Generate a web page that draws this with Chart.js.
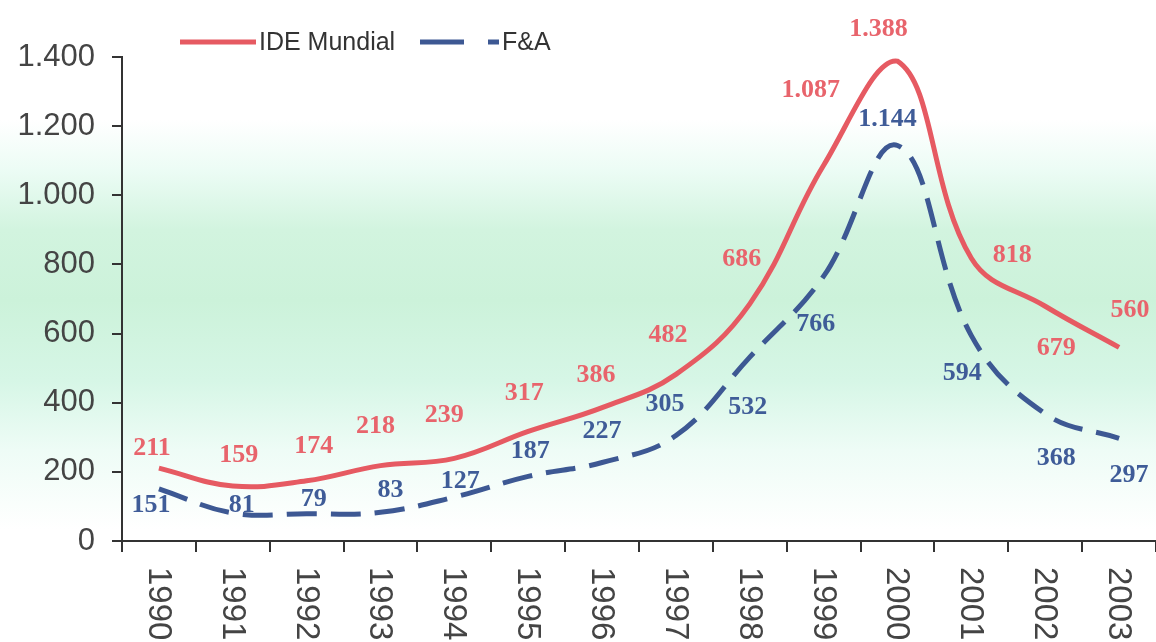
<!DOCTYPE html>
<html>
<head>
<meta charset="utf-8">
<script src="https://cdn.jsdelivr.net/npm/chart.js@4.4.1/dist/chart.umd.min.js"></script>
<style>
  html, body { margin: 0; padding: 0; }
  body {
    width: 1156px; height: 642px; overflow: hidden;
    background: linear-gradient(to bottom, #ffffff 0px, #ffffff 120px, #ecfcf5 170px, #d2f4df 230px, #ccf2da 300px, #d6f6e6 380px, #eefcf6 450px, #ffffff 530px);
  }
  canvas { display: block; }
</style>
</head>
<body>
<canvas id="myChart" width="1156" height="642"></canvas>
<script>
// data
const years = ["1990", "1991", "1992", "1993", "1994", "1995", "1996",
  "1997", "1998", "1999", "2000", "2001", "2002", "2003"];
const ideMundial = [211, 159, 174, 218, 239, 317, 386, 482, 686, 1087, 1388, 818, 679, 560];
const fyA = [151, 81, 79, 83, 127, 187, 227, 305, 532, 766, 1144, 594, 368, 297];
const yTicks = [0, 200, 400, 600, 800, 1000, 1200, 1400];

// where each value label sits relative to its point (px)
const ideLabelOffsets = [[-7, -20], [6, -31], [7, -35], [-5, -39], [-10, -43], [-4, -38], [-6, -32],
  [-8, -39], [-8, -45], [-13, -75], [-19, -32], [41, -3], [11, 42], [11, -37]];
const fyaLabelOffsets = [[-8, 16], [9, -8], [7, -14], [10, -22], [6, -16], [2, -25], [0, -31],
  [-11, -31], [-2, 50], [-8, 48], [-10, -26], [-9, 38], [11, 45], [10, 37]];

const RED = "#e65a62";
const BLUE = "#3d5893";

const fmt = (n) => String(n).replace(/\B(?=(\d{3})+(?!\d))/g, ".");

// value labels, rotated year labels and legend
const extras = {
  id: "extras",
  afterDatasetsDraw(chart) {
    const ctx = chart.ctx;
    const x = chart.scales.x;
    const y = chart.scales.y;
    ctx.save();

    ctx.font = 'bold 26px "Liberation Serif"';
    ctx.textAlign = "center";
    ctx.textBaseline = "middle";
    const groups = [[0, ideLabelOffsets, "#e8646c"], [1, fyaLabelOffsets, "#3f5c98"]];
    groups.forEach(([ds, offs, color]) => {
      ctx.fillStyle = color;
      chart.data.datasets[ds].data.forEach((v, i) => {
        ctx.fillText(fmt(v), x.getPixelForValue(i) + offs[i][0], y.getPixelForValue(v) + offs[i][1]);
      });
    });

    // years, rotated clockwise
    ctx.font = '33px "Liberation Sans"';
    ctx.fillStyle = "#444";
    ctx.textAlign = "left";
    years.forEach((t, i) => {
      ctx.save();
      ctx.translate(x.getPixelForValue(i) - 1, chart.chartArea.bottom + 26);
      ctx.rotate(Math.PI / 2);
      ctx.fillText(t, 0, 0);
      ctx.restore();
    });

    // legend
    ctx.lineWidth = 5;
    ctx.strokeStyle = RED;
    ctx.beginPath();
    ctx.moveTo(180, 42);
    ctx.lineTo(256, 42);
    ctx.stroke();
    ctx.strokeStyle = BLUE;
    ctx.setLineDash([44, 24]);
    ctx.beginPath();
    ctx.moveTo(420, 42);
    ctx.lineTo(499, 42);
    ctx.stroke();
    ctx.setLineDash([]);
    ctx.font = '25px "Liberation Sans"';
    ctx.fillStyle = "#333";
    ctx.fillText("IDE Mundial", 259, 43);
    ctx.fillText("F&A", 502, 43);

    ctx.restore();
  },
};

const config = {
  type: "line",
  data: {
    labels: years,
    datasets: [
      {
        label: "IDE Mundial",
        data: ideMundial,
        borderColor: RED,
        borderWidth: 5,
        tension: 0.4,
        pointRadius: 0,
        fill: false,
      },
      {
        label: "F&A",
        data: fyA,
        borderColor: BLUE,
        borderWidth: 5,
        borderDash: [30, 14],
        tension: 0.4,
        pointRadius: 0,
        fill: false,
      },
    ],
  },
  options: {
    responsive: false,
    animation: false,
    devicePixelRatio: 1,
    layout: { padding: { top: 57, right: 0, left: 0, bottom: 0 } },
    plugins: { legend: { display: false }, tooltip: { enabled: false } },
    scales: {
      x: {
        offset: true,
        grid: { offset: true, drawOnChartArea: false, tickLength: 11, color: "#333", lineWidth: 2 },
        border: { color: "#333", width: 2 },
        ticks: { display: false },
        afterFit(s) { s.height = 101; },
      },
      y: {
        min: 0,
        max: 1400,
        afterBuildTicks(s) { s.ticks = yTicks.map((v) => ({ value: v })); },
        ticks: {
          font: { family: "Liberation Sans", size: 31 },
          color: "#444",
          padding: 17,
          callback: (v) => fmt(v),
        },
        grid: { drawOnChartArea: false, tickLength: 10, color: "#333", lineWidth: 2 },
        border: { color: "#333", width: 2 },
        afterFit(s) { s.width = 122; },
      },
    },
  },
  plugins: [extras],
};

const myChart = new Chart(document.getElementById("myChart"), config);
</script>
</body>
</html>
